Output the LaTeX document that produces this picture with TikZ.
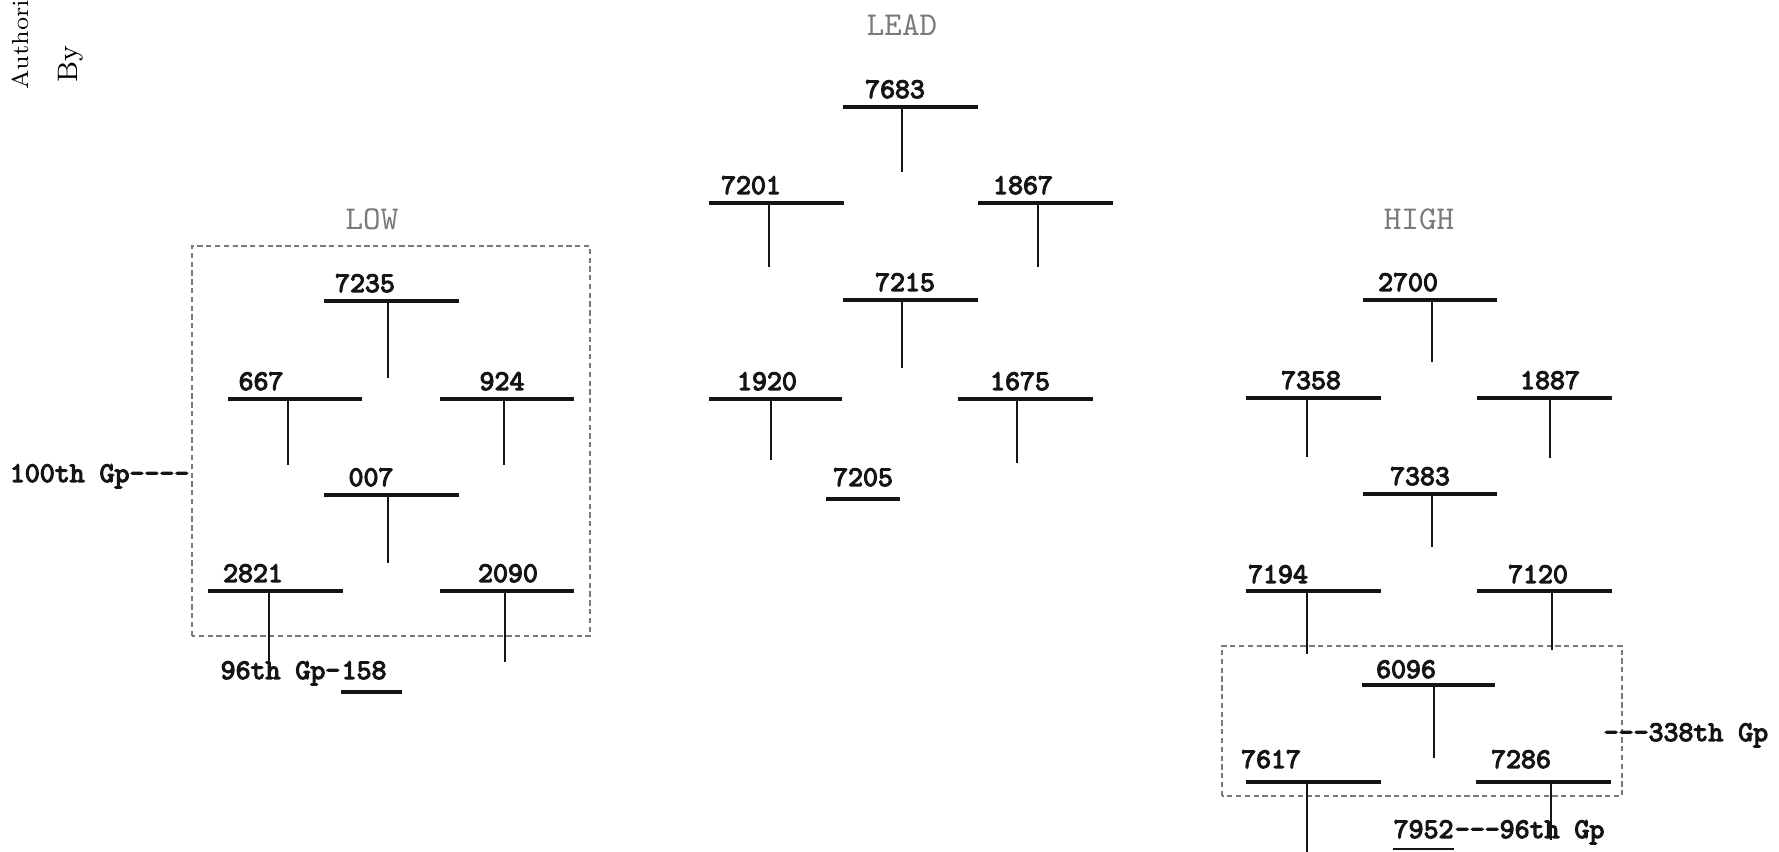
\documentclass[tikz,border=0pt]{standalone}
\usepackage{fontspec}
\usepackage{tikz}
\usetikzlibrary{positioning}
\newfontfamily\typer{lmmono10-regular.otf}[FakeBold=4]
\definecolor{ink}{HTML}{151515}
\definecolor{faded}{HTML}{7A7A7A}

\begin{document}
\begin{tikzpicture}[
    num/.style={inner sep=0pt, anchor=base, text=ink,
      font=\fontsize{8.1}{9}\selectfont\typer},
    grp/.style={inner sep=0pt, text=faded, font=\fontsize{9.5}{11}\selectfont\ttfamily},
    stamp/.style={inner sep=0pt, rotate=90, anchor=base west},
    bar/.style={draw=ink, line width=0.9pt},
    stem/.style={draw=ink, line width=0.8pt},
    uline/.style={draw=ink, line width=1.3pt},
    gpbox/.style={draw=faded, line width=0.5pt, dash pattern=on 1.5pt off 1pt}]
  \clip (0,0) rectangle (17.79,8.52);
  \fill[white] (0,0) rectangle (17.79,8.52);

  \node[stamp, font=\fontsize{6.6}{8}\selectfont] (auth) at (0.28,7.62) {Authori};
  \node[stamp, font=\fontsize{8}{9}\selectfont] (by) at (0.77,7.69) {By};

  % lead
  \node[grp] (lead) at (9.02,8.27) {LEAD};
  \node[num] (p7683) at (8.95,7.54) {7683};
  \draw[bar] (8.43,7.45) -- (9.78,7.45); \draw[stem] (9.02,7.45) -- (9.02,6.80);
  \node[num] (p7201) at (7.51,6.58) {7201};
  \draw[bar] (7.09,6.49) -- (8.44,6.49); \draw[stem] (7.69,6.49) -- (7.69,5.85);
  \node[num] (p1867) at (10.23,6.58) {1867};
  \draw[bar] (9.78,6.49) -- (11.13,6.49); \draw[stem] (10.38,6.49) -- (10.38,5.85);
  \node[num] (p7215) at (9.05,5.61) {7215};
  \draw[bar] (8.43,5.52) -- (9.78,5.52); \draw[stem] (9.02,5.52) -- (9.02,4.84);
  \node[num] (p1920) at (7.67,4.62) {1920};
  \draw[bar] (7.09,4.53) -- (8.42,4.53); \draw[stem] (7.71,4.53) -- (7.71,3.92);
  \node[num] (p1675) at (10.20,4.62) {1675};
  \draw[bar] (9.58,4.53) -- (10.93,4.53); \draw[stem] (10.17,4.53) -- (10.17,3.89);
  \node[num] (p7205) at (8.63,3.66) {7205};
  \draw[uline] (8.26,3.53) -- (9.00,3.53);

  % low
  \node[grp] (low) at (3.72,6.33) {LOW};
  \draw[gpbox] (1.92,2.16) rectangle (5.90,6.06);
  \node[num] (p7235) at (3.65,5.60) {7235};
  \draw[bar] (3.24,5.51) -- (4.59,5.51); \draw[stem] (3.88,5.51) -- (3.88,4.74);
  \node[num] (p667) at (2.61,4.62) {667};
  \draw[bar] (2.28,4.53) -- (3.62,4.53); \draw[stem] (2.88,4.53) -- (2.88,3.87);
  \node[num] (p924) at (5.02,4.62) {924};
  \draw[bar] (4.40,4.53) -- (5.74,4.53); \draw[stem] (5.04,4.53) -- (5.04,3.87);
  \node[num] (p007) at (3.71,3.66) {007};
  \draw[bar] (3.24,3.57) -- (4.59,3.57); \draw[stem] (3.88,3.57) -- (3.88,2.89);
  \node[num] (p2821) at (2.53,2.70) {2821};
  \draw[bar] (2.08,2.61) -- (3.43,2.61); \draw[stem] (2.69,2.61) -- (2.69,1.85);
  \node[num] (p2090) at (5.08,2.70) {2090};
  \draw[bar] (4.40,2.61) -- (5.74,2.61); \draw[stem] (5.05,2.61) -- (5.05,1.90);
  \node[num, anchor=base east] (g100) at (1.90,3.70) {100th Gp----};
  \node[num, anchor=base west] (g96) at (2.20,1.73) {96th Gp-};
  \node[num, base right=0pt of g96] (p158) {158};
  \draw[uline] ([yshift=-0.13cm]p158.base west) -- ([yshift=-0.13cm,xshift=0.15cm]p158.base east);

  % high
  \node[grp] (high) at (14.19,6.33) {HIGH};
  \draw[gpbox] (12.22,0.56) rectangle (16.22,2.06);
  \node[num] (p2700) at (14.08,5.61) {2700};
  \draw[bar] (13.63,5.52) -- (14.97,5.52); \draw[stem] (14.32,5.52) -- (14.32,4.90);
  \node[num] (p7358) at (13.11,4.63) {7358};
  \draw[bar] (12.46,4.54) -- (13.81,4.54); \draw[stem] (13.07,4.54) -- (13.07,3.95);
  \node[num] (p1887) at (15.50,4.63) {1887};
  \draw[bar] (14.77,4.54) -- (16.12,4.54); \draw[stem] (15.50,4.54) -- (15.50,3.94);
  \node[num] (p7383) at (14.20,3.67) {7383};
  \draw[bar] (13.63,3.58) -- (14.97,3.58); \draw[stem] (14.32,3.58) -- (14.32,3.05);
  \node[num] (p7194) at (12.78,2.69) {7194};
  \draw[bar] (12.46,2.61) -- (13.81,2.61); \draw[stem] (13.07,2.61) -- (13.07,1.98);
  \node[num] (p7120) at (15.38,2.69) {7120};
  \draw[bar] (14.77,2.61) -- (16.12,2.61); \draw[stem] (15.52,2.61) -- (15.52,2.02);
  \node[num] (p6096) at (14.06,1.74) {6096};
  \draw[bar] (13.62,1.67) -- (14.95,1.67); \draw[stem] (14.34,1.67) -- (14.34,0.94);
  \node[num] (p7617) at (12.71,0.84) {7617};
  \draw[bar] (12.46,0.70) -- (13.81,0.70); \draw[stem] (13.07,0.70) -- (13.07,0.00);
  \node[num] (p7286) at (15.21,0.84) {7286};
  \draw[bar] (14.76,0.70) -- (16.11,0.70); \draw[stem] (15.51,0.70) -- (15.51,0.12);
  \node[num, anchor=base west] (g338) at (16.03,1.11) {---338th Gp};
  \node[num, anchor=base west] (p7952) at (13.93,0.14) {7952};
  \node[num, base right=0pt of p7952] (g96b) {---96th Gp};
  \draw[draw=ink, line width=0.6pt] ([yshift=-0.11cm]p7952.base west) -- ([yshift=-0.11cm]p7952.base east);
\end{tikzpicture}
\end{document}
